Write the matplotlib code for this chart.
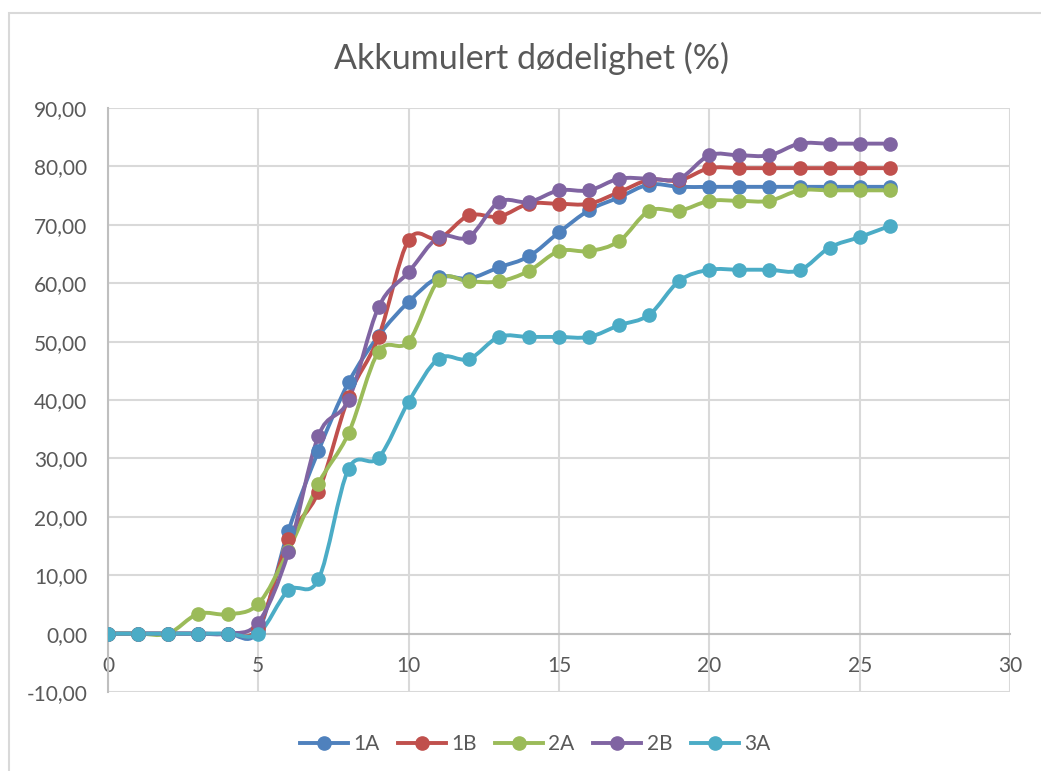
import numpy as np
import matplotlib
matplotlib.use("Agg")
from matplotlib import pyplot as plt
from matplotlib.path import Path
from matplotlib.patches import PathPatch, Rectangle
from matplotlib.ticker import FuncFormatter

plt.rcParams["font.family"] = ["Lato", "DejaVu Sans"]

days = list(range(27))
series_names = ["1A", "1B", "2A", "2B", "3A"]
s_1a = [0, 0, 0, 0, 0, 0.5, 17.6, 31.3, 43.0, 51.0, 56.8, 61.0, 60.8, 62.7, 64.6,
        68.7, 72.5, 74.7, 76.9, 76.5, 76.5, 76.5, 76.5, 76.5, 76.5, 76.5, 76.5]
s_1b = [0, 0, 0, 0, 0, 1.0, 16.2, 24.3, 40.5, 50.8, 67.4, 67.6, 71.6, 71.4, 73.6,
        73.6, 73.6, 75.6, 77.7, 77.6, 79.7, 79.7, 79.7, 79.7, 79.7, 79.7, 79.7]
s_2a = [0, 0, 0, 3.4, 3.3, 5.1, 14.2, 25.7, 34.3, 48.3, 50.0, 60.5, 60.3, 60.3, 62.1,
        65.5, 65.5, 67.2, 72.4, 72.4, 74.1, 74.1, 74.1, 75.9, 75.9, 75.9, 75.9]
s_2b = [0, 0, 0, 0, 0, 1.9, 13.9, 33.9, 40.0, 55.9, 61.9, 67.9, 67.9, 73.9, 73.9,
        75.9, 75.9, 77.9, 77.9, 77.9, 81.9, 81.9, 81.9, 83.9, 83.9, 83.9, 83.9]
s_3a = [0, 0, 0, 0, 0, 0, 7.4, 9.3, 28.2, 30.1, 39.7, 47.1, 47.0, 50.8, 50.8,
        50.8, 50.8, 52.8, 54.6, 60.4, 62.3, 62.3, 62.3, 62.2, 66.1, 67.9, 69.8]
colors = ["#4f81bd", "#c0504d", "#9bbb59", "#8064a2", "#4bacc6"]


def smooth_path(x, y):
    # bezier segments like excel's smoothed line
    pts = np.column_stack([x, y]).astype(float)
    n = len(pts)
    verts = [pts[0]]
    codes = [Path.MOVETO]
    for i in range(n - 1):
        p0 = pts[i - 1] if i > 0 else pts[i]
        p1 = pts[i]
        p2 = pts[i + 1]
        p3 = pts[i + 2] if i + 2 < n else pts[i + 1]
        c1 = p1 + (p2 - p0) / 6.0
        c2 = p2 - (p3 - p1) / 6.0
        verts += [c1, c2, p2]
        codes += [Path.CURVE4] * 3
    return Path(verts, codes)


fig = plt.figure(figsize=(10.41, 7.71), dpi=100)
ax = fig.add_axes([108 / 1041, 1 - 692 / 771, 902 / 1041, 584 / 771])

grey_text = "#595959"
grid_col = "#d9d9d9"

for name, vals, col in zip(series_names, [s_1a, s_1b, s_2a, s_2b, s_3a], colors):
    patch = PathPatch(smooth_path(days, vals), facecolor="none", edgecolor=col,
                      lw=2.8, capstyle="round", joinstyle="round", zorder=3)
    ax.add_patch(patch)
    ax.plot(days, vals, linestyle="none", marker="o", markersize=9.5, color=col,
            zorder=4)
    ax.plot([], [], color=col, lw=2.8, marker="o", markersize=9.5, label=name)

ax.set_xlim(0, 30)
ax.set_ylim(-10, 90)
ax.set_xticks(range(0, 31, 5))
ax.set_yticks(range(-10, 91, 10))
ax.yaxis.set_major_formatter(FuncFormatter(lambda v, p: "{:.2f}".format(v).replace(".", ",")))
ax.grid(True, color=grid_col, lw=1.5)
ax.set_axisbelow(True)

for side in ["top", "right"]:
    ax.spines[side].set_visible(False)
ax.spines["left"].set_color("#bfbfbf")
ax.spines["left"].set_linewidth(1.5)
ax.spines["bottom"].set_position(("data", 0))
ax.spines["bottom"].set_color("#bfbfbf")
ax.spines["bottom"].set_linewidth(1.5)
ax.tick_params(axis="both", length=0, labelcolor=grey_text, labelsize=15)
ax.tick_params(axis="x", pad=16)
ax.tick_params(axis="y", pad=15)

fig.text(531 / 1041, 1 - 58 / 771, "Akkumulert dødelighet (%)", ha="center", va="center",
         fontsize=24.5, color=grey_text)

fig.legend(loc="center", bbox_to_anchor=(535 / 1041, 1 - 744 / 771), ncol=5, frameon=False,
           fontsize=15, labelcolor=grey_text, handlelength=2.3, columnspacing=0.9,
           handletextpad=0.25)

fig.patches.append(Rectangle((9 / 1041, -0.01), 1.1, 1 - 13 / 771 + 0.01,
                             transform=fig.transFigure, fill=False,
                             edgecolor="#d9d9d9", lw=1.5))

fig.savefig("out.png", dpi=100)
